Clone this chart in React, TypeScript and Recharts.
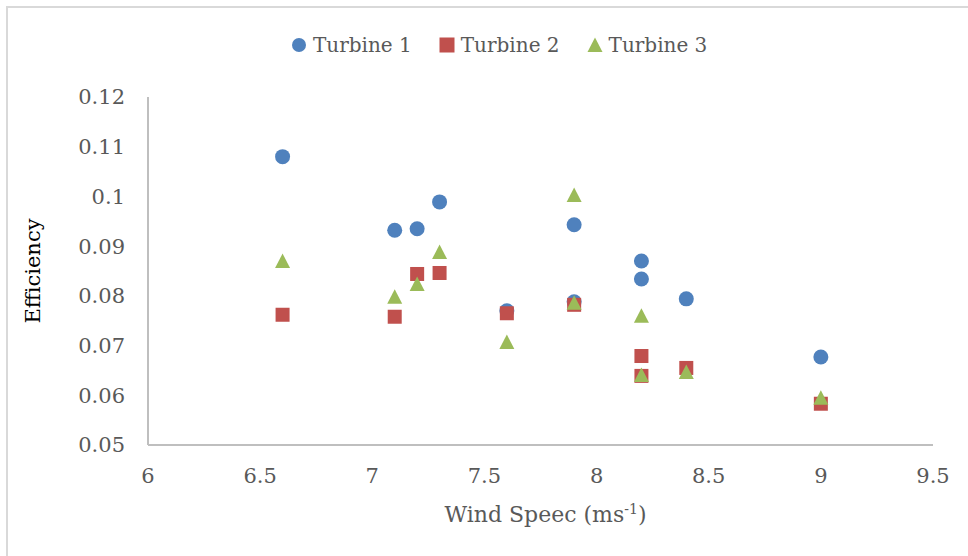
import { ScatterChart, Scatter, XAxis, YAxis, Label } from "recharts";

// wind speed (m/s) paired with efficiency for each turbine
const turbine1 = [
  { x: 6.6, y: 0.108 },
  { x: 7.1, y: 0.0932 },
  { x: 7.2, y: 0.0935 },
  { x: 7.3, y: 0.0989 },
  { x: 7.6, y: 0.077 },
  { x: 7.9, y: 0.0943 },
  { x: 7.9, y: 0.0788 },
  { x: 8.2, y: 0.087 },
  { x: 8.2, y: 0.0834 },
  { x: 8.4, y: 0.0794 },
  { x: 9.0, y: 0.0677 },
];

const turbine2 = [
  { x: 6.6, y: 0.0762 },
  { x: 7.1, y: 0.0758 },
  { x: 7.2, y: 0.0844 },
  { x: 7.3, y: 0.0846 },
  { x: 7.6, y: 0.0765 },
  { x: 7.9, y: 0.0782 },
  { x: 8.2, y: 0.0679 },
  { x: 8.2, y: 0.0639 },
  { x: 8.4, y: 0.0655 },
  { x: 9.0, y: 0.0583 },
];

const turbine3 = [
  { x: 6.6, y: 0.087 },
  { x: 7.1, y: 0.0798 },
  { x: 7.2, y: 0.0824 },
  { x: 7.3, y: 0.0888 },
  { x: 7.6, y: 0.0707 },
  { x: 7.9, y: 0.1003 },
  { x: 7.9, y: 0.0786 },
  { x: 8.2, y: 0.076 },
  { x: 8.2, y: 0.0641 },
  { x: 8.4, y: 0.0647 },
  { x: 9.0, y: 0.0595 },
];

const xTicks = [6, 6.5, 7, 7.5, 8, 8.5, 9, 9.5];
const yTicks = [0.05, 0.06, 0.07, 0.08, 0.09, 0.1, 0.11, 0.12];

const BLUE = "#4f81bd";
const RED = "#c0504d";
const GREEN = "#9bbb59";
const FONT = "'DejaVu Serif', serif";
const AXIS = "#bfbfbf";

const Circle = ({ cx, cy }: any) => <circle cx={cx} cy={cy} r={7.5} fill={BLUE} />;
const Square = ({ cx, cy }: any) => <rect x={cx - 7} y={cy - 7} width={14} height={14} fill={RED} />;
const Triangle = ({ cx, cy }: any) => (
  <polygon points={`${cx},${cy - 7.5} ${cx - 7.5},${cy + 7} ${cx + 7.5},${cy + 7}`} fill={GREEN} />
);

const legendItems = [
  { name: "Turbine 1", icon: <circle cx={8} cy={8} r={7} fill={BLUE} /> },
  { name: "Turbine 2", icon: <rect x={0.5} y={0.5} width={15} height={15} fill={RED} /> },
  { name: "Turbine 3", icon: <polygon points="8,0.5 0.5,15 15.5,15" fill={GREEN} /> },
];

const XTitle = ({ viewBox }: any) => {
  const cx = viewBox.x + viewBox.width / 2 + 5;
  return (
    <text x={cx} y={522} textAnchor="middle" fill="#595959" fontFamily={FONT} fontSize={22}>
      Wind Speec (ms<tspan dy={-8} fontSize={14}>-1</tspan>
      <tspan dy={8}>)</tspan>
    </text>
  );
};

const YTitle = ({ viewBox }: any) => {
  const cy = viewBox.y + viewBox.height / 2;
  return (
    <text
      x={33}
      y={cy}
      transform={`rotate(-90, 33, ${cy})`}
      textAnchor="middle"
      dominantBaseline="central"
      fill="#000"
      fontFamily={FONT}
      fontSize={21}
    >
      Efficiency
    </text>
  );
};

export default function App() {
  const tick = { fontSize: 21, fontFamily: FONT, fill: "#595959" };
  return (
    <div
      style={{
        position: "absolute",
        left: 0,
        top: 0,
        width: 968,
        height: 556,
        overflow: "hidden",
        background: "#fff",
        fontFamily: FONT,
      }}
    >
      <div
        style={{
          position: "absolute",
          left: 6,
          top: 6,
          width: 1100,
          height: 700,
          border: "2px solid #d9d9d9",
        }}
      />
      <div style={{ position: "absolute", left: 291, top: 30, display: "flex", alignItems: "center" }}>
        {legendItems.map((item, i) => (
          <div key={item.name} style={{ display: "flex", alignItems: "center", marginLeft: i ? 27 : 0 }}>
            <svg width={16} height={16} style={{ marginRight: 6 }}>
              {item.icon}
            </svg>
            <span style={{ fontSize: 20, color: "#595959", lineHeight: "30px" }}>{item.name}</span>
          </div>
        ))}
      </div>
      <ScatterChart
        width={968}
        height={556}
        margin={{ top: 97, right: 35, bottom: 0, left: 0 }}
        style={{ position: "absolute", left: 0, top: 0 }}
      >
        <XAxis
          type="number"
          dataKey="x"
          domain={[6, 9.5]}
          ticks={xTicks}
          interval={0}
          height={111}
          tick={tick}
          tickLine={false}
          tickSize={6}
          tickMargin={17}
          axisLine={{ stroke: AXIS, strokeWidth: 2 }}
          allowDataOverflow
        >
          <Label content={<XTitle />} />
        </XAxis>
        <YAxis
          type="number"
          dataKey="y"
          domain={[0.05, 0.12]}
          ticks={yTicks}
          interval={0}
          width={148}
          tick={tick}
          tickLine={false}
          tickSize={6}
          tickMargin={17}
          axisLine={{ stroke: AXIS, strokeWidth: 2 }}
          allowDataOverflow
        >
          <Label content={<YTitle />} />
        </YAxis>
        <Scatter name="Turbine 1" data={turbine1} shape={<Circle />} isAnimationActive={false} />
        <Scatter name="Turbine 2" data={turbine2} shape={<Square />} isAnimationActive={false} />
        <Scatter name="Turbine 3" data={turbine3} shape={<Triangle />} isAnimationActive={false} />
      </ScatterChart>
    </div>
  );
}
